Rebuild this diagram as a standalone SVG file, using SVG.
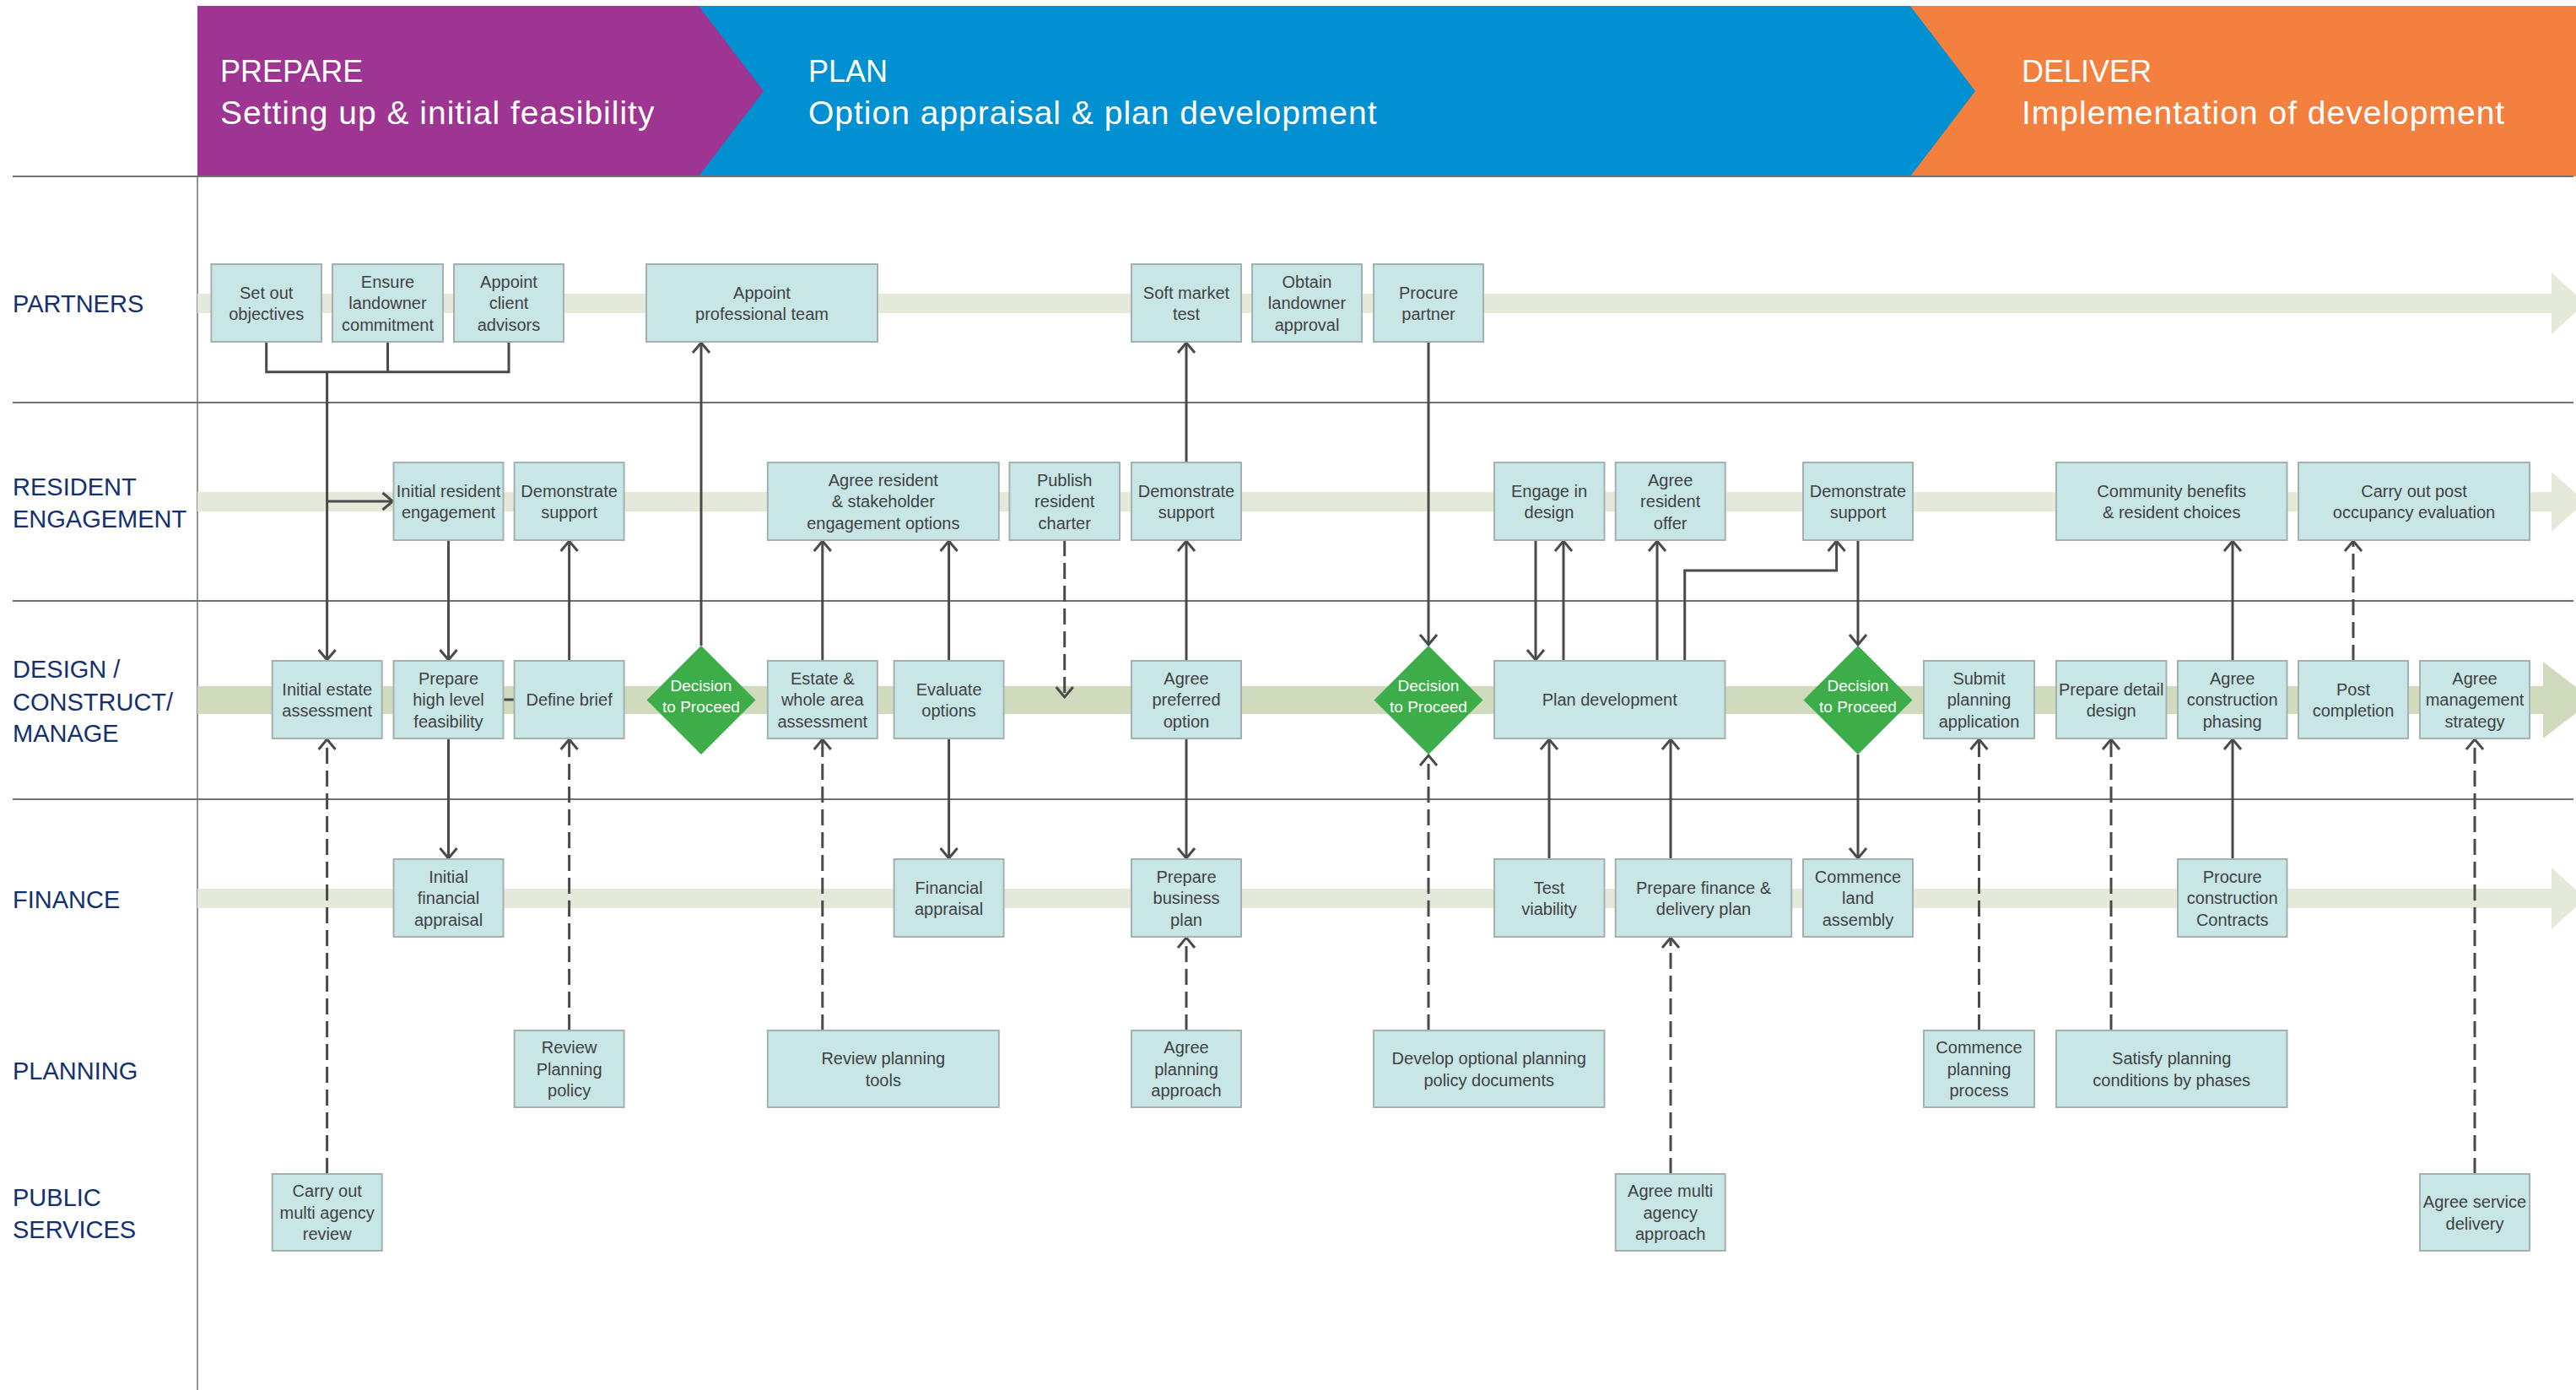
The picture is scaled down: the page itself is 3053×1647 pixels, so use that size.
<svg xmlns="http://www.w3.org/2000/svg" width="3053" height="1647" viewBox="0 0 3053 1647">
<defs>
<style>
.box{fill:#c9e6e6;stroke:#a3b1b1;stroke-width:2}
.t{font-family:"Liberation Sans",Arial,sans-serif;font-size:20px;fill:#3f4244;text-anchor:middle}
.dec{fill:#3dad4a}
.dt{font-family:"Liberation Sans",Arial,sans-serif;font-size:19px;fill:#ffffff;text-anchor:middle}
.lane{font-family:"Liberation Sans",Arial,sans-serif;font-size:29px;fill:#14306e}
.h1{font-family:"Liberation Sans",Arial,sans-serif;font-size:36px;fill:#ffffff}
.h2{font-family:"Liberation Sans",Arial,sans-serif;font-size:39px;fill:#ffffff;letter-spacing:1px}
.conn{fill:none;stroke:#4a4a4a;stroke-width:3}
.dash{stroke-dasharray:19 8}
.sep{stroke:#6b7373;stroke-width:2}
</style>
<marker id="arr" markerWidth="30" markerHeight="30" viewBox="-15 -15 30 30" refX="0" refY="0" orient="auto" markerUnits="userSpaceOnUse">
<path d="M-12,-10 L0,0 L-12,10" fill="none" stroke="#4a4a4a" stroke-width="3"/>
</marker>
</defs>
<rect x="0" y="0" width="3053" height="1647" fill="#ffffff"/>

<g id="header">
<polygon points="2264,7 3053,7 3053,209 2264,209" fill="#f3803e"/>
<polygon points="828,7 2264,7 2341,108 2264,209 828,209" fill="#0190d1"/>
<polygon points="234,7 828,7 905,108 828,209 234,209" fill="#9e3592"/>
<text class="h1" x="261" y="97">PREPARE</text>
<text class="h2" x="261" y="147">Setting up &amp; initial feasibility</text>
<text class="h1" x="958" y="97">PLAN</text>
<text class="h2" x="958" y="147">Option appraisal &amp; plan development</text>
<text class="h1" x="2396" y="97">DELIVER</text>
<text class="h2" x="2396" y="147">Implementation of development</text>
</g>

<g id="lanes">
<line class="sep" x1="15" y1="209" x2="3050" y2="209"/>
<line class="sep" x1="15" y1="477" x2="3050" y2="477"/>
<line class="sep" x1="15" y1="712" x2="3050" y2="712"/>
<line class="sep" x1="15" y1="947" x2="3050" y2="947"/>
<line x1="234" y1="209" x2="234" y2="1647" stroke="#6b7373" stroke-width="1.5"/>
<polygon points="234,348 3024,348 3024,323 3064,359.5 3024,396 3024,371 234,371" fill="#e4e9da"/>
<polygon points="234,583 3024,583 3024,559 3064,594.5 3024,630 3024,606 234,606" fill="#e4e9da"/>
<polygon points="234,813 3014,813 3014,784 3073,829.5 3014,875 3014,846 234,846" fill="#d0dbbd"/>
<polygon points="234,1053 3024,1053 3024,1028 3064,1064.5 3024,1101 3024,1076 234,1076" fill="#e4e9da"/>
<text class="lane" x="15" y="370">PARTNERS</text>
<text class="lane" x="15" y="587">RESIDENT</text>
<text class="lane" x="15" y="625">ENGAGEMENT</text>
<text class="lane" x="15" y="803">DESIGN /</text>
<text class="lane" x="15" y="842">CONSTRUCT/</text>
<text class="lane" x="15" y="879">MANAGE</text>
<text class="lane" x="15" y="1076">FINANCE</text>
<text class="lane" x="15" y="1279">PLANNING</text>
<text class="lane" x="15" y="1429">PUBLIC</text>
<text class="lane" x="15" y="1467">SERVICES</text>
</g>

<g id="connectors">
<path class="conn" d="M315.7,405 V440.7 M459.5,405 V440.7 M603,405 V440.7 M314.2,440.7 H604.5"/>
<path class="conn" d="M387.6,440.7 V782" marker-end="url(#arr)"/>
<path class="conn" d="M387.6,594 H465.5" marker-end="url(#arr)"/>
<path class="conn" d="M831,765 V406" marker-end="url(#arr)"/>
<path class="conn" d="M531.5,640 V782" marker-end="url(#arr)"/>
<path class="conn" d="M531.5,875 V1017" marker-end="url(#arr)"/>
<path class="conn" d="M674.6,783 V641" marker-end="url(#arr)"/>
<path class="conn" d="M596.5,829 H609.6"/>
<path class="conn" d="M974.8,783 V641" marker-end="url(#arr)"/>
<path class="conn" d="M1124.6,783 V641" marker-end="url(#arr)"/>
<path class="conn" d="M1124.6,875 V1017" marker-end="url(#arr)"/>
<path class="conn dash" d="M1261.7,640 V826" marker-end="url(#arr)"/>
<path class="conn" d="M1406,783 V641" marker-end="url(#arr)"/>
<path class="conn" d="M1406,548 V406" marker-end="url(#arr)"/>
<path class="conn" d="M1406,875 V1017" marker-end="url(#arr)"/>
<path class="conn dash" d="M1406,1221 V1111" marker-end="url(#arr)"/>
<path class="conn" d="M1693,405 V764" marker-end="url(#arr)"/>
<path class="conn dash" d="M1693,1221 V895" marker-end="url(#arr)"/>
<path class="conn" d="M1820,640 V782" marker-end="url(#arr)"/>
<path class="conn" d="M1853,783 V641" marker-end="url(#arr)"/>
<path class="conn" d="M1964,783 V641" marker-end="url(#arr)"/>
<path class="conn" d="M1996.7,783 V676 H2176.6 V641" marker-end="url(#arr)"/>
<path class="conn" d="M1836,1018 V876" marker-end="url(#arr)"/>
<path class="conn" d="M1980,1018 V876" marker-end="url(#arr)"/>
<path class="conn dash" d="M1980,1391 V1111" marker-end="url(#arr)"/>
<path class="conn" d="M2202,640 V764" marker-end="url(#arr)"/>
<path class="conn" d="M2202,894 V1017" marker-end="url(#arr)"/>
<path class="conn dash" d="M2345.5,1221 V876" marker-end="url(#arr)"/>
<path class="conn dash" d="M2502,1221 V876" marker-end="url(#arr)"/>
<path class="conn" d="M2646,1018 V876" marker-end="url(#arr)"/>
<path class="conn" d="M2646,783 V641" marker-end="url(#arr)"/>
<path class="conn dash" d="M2789,783 V641" marker-end="url(#arr)"/>
<path class="conn dash" d="M2933,1391 V876" marker-end="url(#arr)"/>
<path class="conn dash" d="M387.6,1391 V876" marker-end="url(#arr)"/>
<path class="conn dash" d="M674.6,1221 V876" marker-end="url(#arr)"/>
<path class="conn dash" d="M974.8,1221 V876" marker-end="url(#arr)"/>
</g>

<!-- Partners -->
<g id="p1"><rect class="box" x="250.4" y="313" width="130.6" height="92"/><text class="t"><tspan x="315.7" y="353.5">Set out</tspan><tspan x="315.7" y="379">objectives</tspan></text></g>
<g id="p2"><rect class="box" x="394" y="313" width="131" height="92"/><text class="t"><tspan x="459.5" y="340.5">Ensure</tspan><tspan x="459.5" y="366">landowner</tspan><tspan x="459.5" y="391.5">commitment</tspan></text></g>
<g id="p3"><rect class="box" x="538" y="313" width="130" height="92"/><text class="t"><tspan x="603" y="340.5">Appoint</tspan><tspan x="603" y="366">client</tspan><tspan x="603" y="391.5">advisors</tspan></text></g>
<g id="p4"><rect class="box" x="766" y="313" width="274" height="92"/><text class="t"><tspan x="903" y="353.5">Appoint</tspan><tspan x="903" y="379">professional team</tspan></text></g>
<g id="p5"><rect class="box" x="1341" y="313" width="130" height="92"/><text class="t"><tspan x="1406" y="353.5">Soft market</tspan><tspan x="1406" y="379">test</tspan></text></g>
<g id="p6"><rect class="box" x="1484" y="313" width="130" height="92"/><text class="t"><tspan x="1549" y="340.5">Obtain</tspan><tspan x="1549" y="366">landowner</tspan><tspan x="1549" y="391.5">approval</tspan></text></g>
<g id="p7"><rect class="box" x="1628" y="313" width="130" height="92"/><text class="t"><tspan x="1693" y="353.5">Procure</tspan><tspan x="1693" y="379">partner</tspan></text></g>

<!-- Resident engagement -->
<g id="r1"><rect class="box" x="466.5" y="548" width="130" height="92"/><text class="t"><tspan x="531.5" y="588.5">Initial resident</tspan><tspan x="531.5" y="614">engagement</tspan></text></g>
<g id="r2"><rect class="box" x="609.6" y="548" width="130" height="92"/><text class="t"><tspan x="674.6" y="588.5">Demonstrate</tspan><tspan x="674.6" y="614">support</tspan></text></g>
<g id="r3"><rect class="box" x="909.8" y="548" width="274" height="92"/><text class="t"><tspan x="1046.8" y="575.5">Agree resident</tspan><tspan x="1046.8" y="601">&amp; stakeholder</tspan><tspan x="1046.8" y="626.5">engagement options</tspan></text></g>
<g id="r4"><rect class="box" x="1196.4" y="548" width="130.6" height="92"/><text class="t"><tspan x="1261.7" y="575.5">Publish</tspan><tspan x="1261.7" y="601">resident</tspan><tspan x="1261.7" y="626.5">charter</tspan></text></g>
<g id="r5"><rect class="box" x="1341" y="548" width="130" height="92"/><text class="t"><tspan x="1406" y="588.5">Demonstrate</tspan><tspan x="1406" y="614">support</tspan></text></g>
<g id="r6"><rect class="box" x="1771" y="548" width="130.5" height="92"/><text class="t"><tspan x="1836" y="588.5">Engage in</tspan><tspan x="1836" y="614">design</tspan></text></g>
<g id="r7"><rect class="box" x="1914.7" y="548" width="130" height="92"/><text class="t"><tspan x="1979.7" y="575.5">Agree</tspan><tspan x="1979.7" y="601">resident</tspan><tspan x="1979.7" y="626.5">offer</tspan></text></g>
<g id="r8"><rect class="box" x="2137" y="548" width="130" height="92"/><text class="t"><tspan x="2202" y="588.5">Demonstrate</tspan><tspan x="2202" y="614">support</tspan></text></g>
<g id="r9"><rect class="box" x="2437" y="548" width="273.5" height="92"/><text class="t"><tspan x="2573.7" y="588.5">Community benefits</tspan><tspan x="2573.7" y="614">&amp; resident choices</tspan></text></g>
<g id="r10"><rect class="box" x="2724" y="548" width="274" height="92"/><text class="t"><tspan x="2861" y="588.5">Carry out post</tspan><tspan x="2861" y="614">occupancy evaluation</tspan></text></g>

<!-- Design / construct / manage -->
<g id="d1"><rect class="box" x="322.7" y="783" width="130" height="92"/><text class="t"><tspan x="387.7" y="823.5">Initial estate</tspan><tspan x="387.7" y="849">assessment</tspan></text></g>
<g id="d2"><rect class="box" x="466.5" y="783" width="130" height="92"/><text class="t"><tspan x="531.5" y="810.5">Prepare</tspan><tspan x="531.5" y="836">high level</tspan><tspan x="531.5" y="861.5">feasibility</tspan></text></g>
<g id="d3"><rect class="box" x="609.6" y="783" width="130" height="92"/><text class="t"><tspan x="674.6" y="836">Define brief</tspan></text></g>
<g id="dec1"><polygon class="dec" points="831,765 895.5,829.5 831,894 766.5,829.5"/><text class="dt"><tspan x="831" y="818.5">Decision</tspan><tspan x="831" y="843.5">to Proceed</tspan></text></g>
<g id="d4"><rect class="box" x="909.8" y="783" width="130" height="92"/><text class="t"><tspan x="974.8" y="810.5">Estate &amp;</tspan><tspan x="974.8" y="836">whole area</tspan><tspan x="974.8" y="861.5">assessment</tspan></text></g>
<g id="d5"><rect class="box" x="1059.6" y="783" width="130" height="92"/><text class="t"><tspan x="1124.6" y="823.5">Evaluate</tspan><tspan x="1124.6" y="849">options</tspan></text></g>
<g id="d6"><rect class="box" x="1341" y="783" width="130" height="92"/><text class="t"><tspan x="1406" y="810.5">Agree</tspan><tspan x="1406" y="836">preferred</tspan><tspan x="1406" y="861.5">option</tspan></text></g>
<g id="dec2"><polygon class="dec" points="1693,765 1757.5,829.5 1693,894 1628.5,829.5"/><text class="dt"><tspan x="1693" y="818.5">Decision</tspan><tspan x="1693" y="843.5">to Proceed</tspan></text></g>
<g id="d7"><rect class="box" x="1771" y="783" width="273.5" height="92"/><text class="t"><tspan x="1907.7" y="836">Plan development</tspan></text></g>
<g id="dec3"><polygon class="dec" points="2202,765 2266.5,829.5 2202,894 2137.5,829.5"/><text class="dt"><tspan x="2202" y="818.5">Decision</tspan><tspan x="2202" y="843.5">to Proceed</tspan></text></g>
<g id="d8"><rect class="box" x="2280" y="783" width="131" height="92"/><text class="t"><tspan x="2345.5" y="810.5">Submit</tspan><tspan x="2345.5" y="836">planning</tspan><tspan x="2345.5" y="861.5">application</tspan></text></g>
<g id="d9"><rect class="box" x="2437" y="783" width="130.5" height="92"/><text class="t"><tspan x="2502.2" y="823.5">Prepare detail</tspan><tspan x="2502.2" y="849">design</tspan></text></g>
<g id="d10"><rect class="box" x="2581" y="783" width="129.5" height="92"/><text class="t"><tspan x="2645.7" y="810.5">Agree</tspan><tspan x="2645.7" y="836">construction</tspan><tspan x="2645.7" y="861.5">phasing</tspan></text></g>
<g id="d11"><rect class="box" x="2724" y="783" width="130" height="92"/><text class="t"><tspan x="2789" y="823.5">Post</tspan><tspan x="2789" y="849">completion</tspan></text></g>
<g id="d12"><rect class="box" x="2868" y="783" width="130" height="92"/><text class="t"><tspan x="2933" y="810.5">Agree</tspan><tspan x="2933" y="836">management</tspan><tspan x="2933" y="861.5">strategy</tspan></text></g>

<!-- Finance -->
<g id="f1"><rect class="box" x="466.5" y="1018" width="130" height="92"/><text class="t"><tspan x="531.5" y="1045.5">Initial</tspan><tspan x="531.5" y="1071">financial</tspan><tspan x="531.5" y="1096.5">appraisal</tspan></text></g>
<g id="f2"><rect class="box" x="1059.6" y="1018" width="130" height="92"/><text class="t"><tspan x="1124.6" y="1058.5">Financial</tspan><tspan x="1124.6" y="1084">appraisal</tspan></text></g>
<g id="f3"><rect class="box" x="1341" y="1018" width="130" height="92"/><text class="t"><tspan x="1406" y="1045.5">Prepare</tspan><tspan x="1406" y="1071">business</tspan><tspan x="1406" y="1096.5">plan</tspan></text></g>
<g id="f4"><rect class="box" x="1771" y="1018" width="130.5" height="92"/><text class="t"><tspan x="1836" y="1058.5">Test</tspan><tspan x="1836" y="1084">viability</tspan></text></g>
<g id="f5"><rect class="box" x="1914.7" y="1018" width="208.5" height="92"/><text class="t"><tspan x="2019" y="1058.5">Prepare finance &amp;</tspan><tspan x="2019" y="1084">delivery plan</tspan></text></g>
<g id="f6"><rect class="box" x="2137" y="1018" width="130" height="92"/><text class="t"><tspan x="2202" y="1045.5">Commence</tspan><tspan x="2202" y="1071">land</tspan><tspan x="2202" y="1096.5">assembly</tspan></text></g>
<g id="f7"><rect class="box" x="2581" y="1018" width="129.5" height="92"/><text class="t"><tspan x="2645.7" y="1045.5">Procure</tspan><tspan x="2645.7" y="1071">construction</tspan><tspan x="2645.7" y="1096.5">Contracts</tspan></text></g>

<!-- Planning -->
<g id="pl1"><rect class="box" x="609.6" y="1221" width="130" height="91"/><text class="t"><tspan x="674.6" y="1248">Review</tspan><tspan x="674.6" y="1273.5">Planning</tspan><tspan x="674.6" y="1299">policy</tspan></text></g>
<g id="pl2"><rect class="box" x="909.8" y="1221" width="274" height="91"/><text class="t"><tspan x="1046.8" y="1261">Review planning</tspan><tspan x="1046.8" y="1286.5">tools</tspan></text></g>
<g id="pl3"><rect class="box" x="1341" y="1221" width="130" height="91"/><text class="t"><tspan x="1406" y="1248">Agree</tspan><tspan x="1406" y="1273.5">planning</tspan><tspan x="1406" y="1299">approach</tspan></text></g>
<g id="pl4"><rect class="box" x="1628" y="1221" width="273.5" height="91"/><text class="t"><tspan x="1764.7" y="1261">Develop optional planning</tspan><tspan x="1764.7" y="1286.5">policy documents</tspan></text></g>
<g id="pl5"><rect class="box" x="2280" y="1221" width="131" height="91"/><text class="t"><tspan x="2345.5" y="1248">Commence</tspan><tspan x="2345.5" y="1273.5">planning</tspan><tspan x="2345.5" y="1299">process</tspan></text></g>
<g id="pl6"><rect class="box" x="2437" y="1221" width="273.5" height="91"/><text class="t"><tspan x="2573.7" y="1261">Satisfy planning</tspan><tspan x="2573.7" y="1286.5">conditions by phases</tspan></text></g>

<!-- Public services -->
<g id="ps1"><rect class="box" x="322.7" y="1391" width="130" height="91"/><text class="t"><tspan x="387.7" y="1418">Carry out</tspan><tspan x="387.7" y="1443.5">multi agency</tspan><tspan x="387.7" y="1469">review</tspan></text></g>
<g id="ps2"><rect class="box" x="1914.7" y="1391" width="130" height="91"/><text class="t"><tspan x="1979.7" y="1418">Agree multi</tspan><tspan x="1979.7" y="1443.5">agency</tspan><tspan x="1979.7" y="1469">approach</tspan></text></g>
<g id="ps3"><rect class="box" x="2868" y="1391" width="130" height="91"/><text class="t"><tspan x="2933" y="1431">Agree service</tspan><tspan x="2933" y="1456.5">delivery</tspan></text></g>
</svg>
